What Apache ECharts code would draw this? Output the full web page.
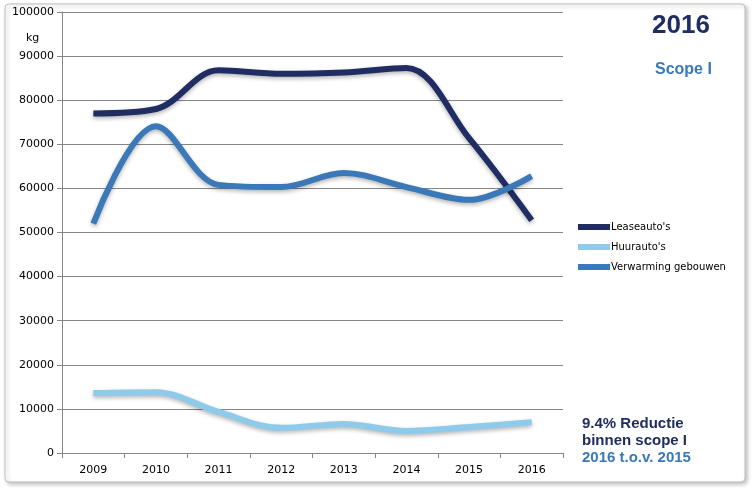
<!DOCTYPE html>
<html><head><meta charset="utf-8">
<script src="https://cdn.jsdelivr.net/npm/echarts@6/dist/echarts.min.js"></script>
<style>html,body{margin:0;padding:0;background:#fff}#c{width:755px;height:495px}</style>
</head><body><div id="c"></div>
<script>
const categories = ['2009','2010','2011','2012','2013','2014','2015','2016'];
const leaseauto = [77000, 78000, 86800, 86000, 86300, 87300, 71400, 52800];
const huurauto = [13600, 13800, 9300, 5700, 6600, 5000, 5900, 7000];
const verwarming = [52000, 74100, 60800, 60300, 63500, 60300, 57400, 62800];
const seriesNames = ["Leaseauto's", "Huurauto's", "Verwarming gebouwen"];
const colors = ['#1f2d63', '#8ecbeb', '#3a78b8'];

const chart = echarts.init(document.getElementById('c'));
const mk = (name, data, color) => ({
  name, type: 'line', data, smooth: 0.35, symbol: 'none',
  lineStyle: { width: 6, color, shadowColor: 'rgba(0,0,0,0.3)', shadowBlur: 4, shadowOffsetY: 2 },
  itemStyle: { color }
});
chart.setOption({
  animation: false,
  graphic: [
    { type: 'rect', shape: { x: 5, y: 4, width: 740, height: 478, r: 4 },
      style: { fill: '#fff', stroke: '#bfbfbf', lineWidth: 1, shadowColor: 'rgba(0,0,0,0.25)', shadowBlur: 4, shadowOffsetX: 2, shadowOffsetY: 2 }, z: -10 },
    { type: 'text', left: 26, top: 33, style: { text: 'kg', font: '11px "DejaVu Sans"', fill: '#000' } },
    { type: 'text', left: 652, top: 13, style: { text: '2016', font: 'bold 26px "Liberation Sans"', fill: '#1f2d63' } },
    { type: 'text', left: 655, top: 62, style: { text: 'Scope I', font: 'bold 16px "Liberation Sans"', fill: '#3a78b8' } },
    { type: 'text', left: 582, top: 416, style: { text: '9.4% Reductie', font: 'bold 15px "Liberation Sans"', fill: '#1f2d63' } },
    { type: 'text', left: 582, top: 433, style: { text: 'binnen scope I', font: 'bold 15px "Liberation Sans"', fill: '#1f2d63' } },
    { type: 'text', left: 582, top: 450, style: { text: '2016 t.o.v. 2015', font: 'bold 15px "Liberation Sans"', fill: '#3a78b8' } }
  ],
  legend: {
    orient: 'vertical', left: 573, top: 217, itemGap: 10, itemWidth: 32, itemHeight: 6,
    icon: 'rect', textStyle: { fontSize: 10, fontFamily: 'DejaVu Sans', color: '#000', padding: [0,0,0,-4] },
    data: seriesNames
  },
  grid: { left: 62, right: 192, top: 12, bottom: 42 },
  xAxis: {
    type: 'category', data: categories, boundaryGap: true,
    axisLine: { lineStyle: { color: '#868686' } },
    axisTick: { show: true, alignWithLabel: false, length: 5, lineStyle: { color: '#868686' } },
    axisLabel: { color: '#000', fontSize: 11, fontFamily: 'DejaVu Sans', margin: 12 }
  },
  yAxis: {
    type: 'value', min: 0, max: 100000, interval: 10000,
    axisLine: { show: true, lineStyle: { color: '#868686' } },
    axisTick: { show: true, length: 5, lineStyle: { color: '#868686' } },
    splitLine: { lineStyle: { color: '#868686', width: 1 } },
    axisLabel: { color: '#000', fontSize: 11, fontFamily: 'DejaVu Sans', margin: 8, formatter: v => String(v) }
  },
  series: [
    mk(seriesNames[0], leaseauto, colors[0]),
    mk(seriesNames[1], huurauto, colors[1]),
    mk(seriesNames[2], verwarming, colors[2])
  ]
});
</script></body></html>
